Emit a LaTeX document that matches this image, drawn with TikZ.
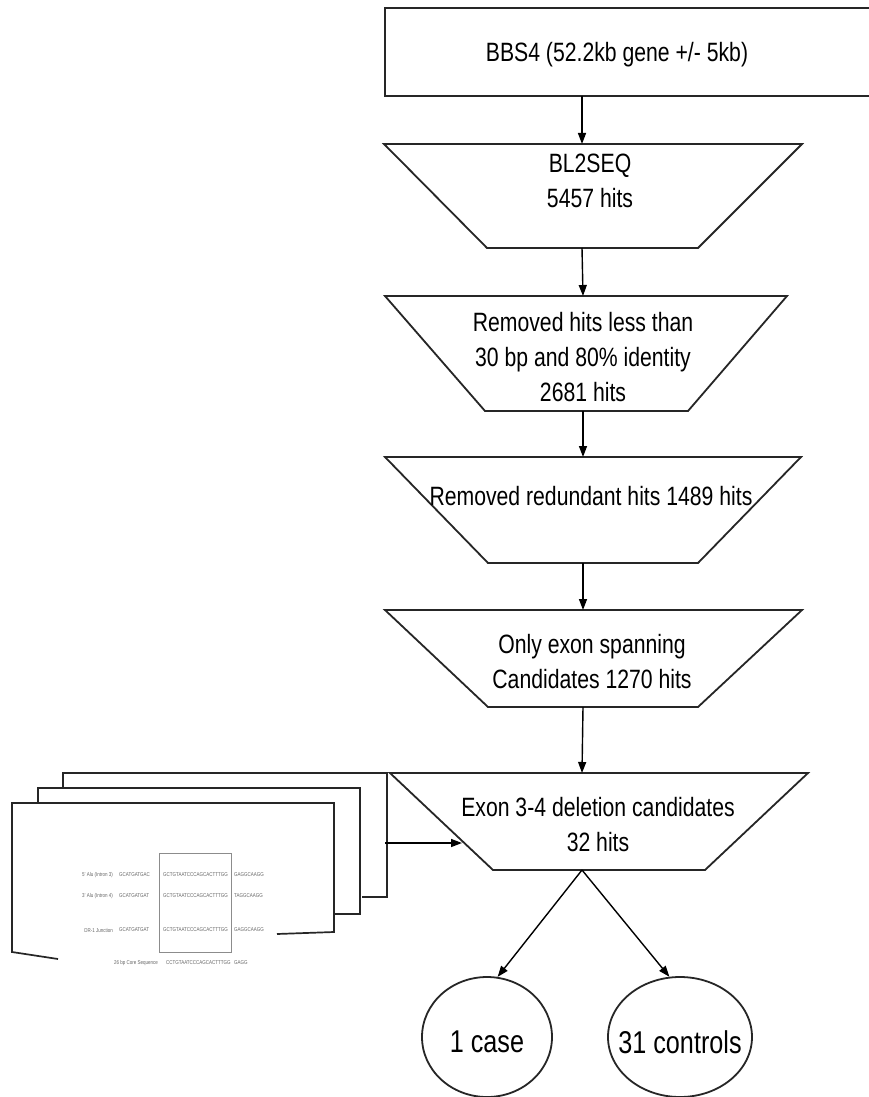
\documentclass[tikz,border=0pt]{standalone}
\usepackage{fontspec}
\setmainfont{Liberation Sans}[FakeStretch=0.8]
\usetikzlibrary{arrows.meta,shapes.geometric}
\begin{document}
\begin{tikzpicture}[x=1pt,y=-1pt,
  shapeline/.style={draw=black!85,line width=1.8pt,line join=miter},
  pageline/.style={draw=black!85,line width=1.7pt,line join=miter},
  arr/.style={draw=black,line width=1.4pt,-{Triangle[length=11pt,width=8pt]}},
  lbl/.style={font=\fontsize{26.5}{35}\selectfont,align=center,inner sep=0pt},
  elbl/.style={font=\fontsize{31.5}{38}\selectfont,inner sep=0pt},
  oval/.style={ellipse,draw=black!85,line width=1.8pt,minimum height=120pt,inner sep=0pt},
  seqtxt/.style={font=\fontsize{5.6}{6}\selectfont,text=black!60,inner sep=0pt,anchor=west},
  seqlab/.style={font=\fontsize{5.6}{6}\selectfont,text=black!60,inner sep=0pt,anchor=east},
]
\clip (0,0) rectangle (869,1097);
\fill[white] (0,0) rectangle (869,1097);

% top box
\draw[shapeline] (385,8) rectangle (900,96);
\node[lbl] (n0) at (617,55) {BBS4 (52.2kb gene +/- 5kb)};
\coordinate (b0) at (582,96);

% trapezoids
\draw[shapeline] (384,144) -- (802,144) -- (698,248) -- (487,248) -- cycle;
\node[lbl] (n1) at (590,181) {BL2SEQ\\5457 hits};
\coordinate (t1) at (582,144);
\coordinate (b1) at (582,248);

\draw[shapeline] (385,296) -- (787,296) -- (688,411) -- (485,411) -- cycle;
\node[lbl] (n2) at (583,357) {Removed hits less than\\30 bp and 80\% identity\\2681 hits};
\coordinate (t2) at (583,296);
\coordinate (b2) at (583,411);

\draw[shapeline] (385,457) -- (801,457) -- (698,563) -- (488,563) -- cycle;
\node[lbl] (n3) at (591,496) {Removed redundant hits 1489 hits};
\coordinate (t3) at (583,457);
\coordinate (b3) at (583,563);

\draw[shapeline] (385,610) -- (802,610) -- (698,707) -- (488,707) -- cycle;
\node[lbl] (n4) at (592,662) {Only exon spanning\\Candidates 1270 hits};
\coordinate (t4) at (583,610);
\coordinate (b4) at (583,707);

\draw[shapeline] (390,773) -- (808,773) -- (705,870) -- (493,870) -- cycle;
\node[lbl] (n5) at (598,825) {Exon 3-4 deletion candidates\\32 hits};
\coordinate (t5) at (582,773);
\coordinate (b5) at (582,870);
\coordinate (t5l) at (462,843);

% ellipses
\node[oval,minimum width=130pt] (e1) at (487,1037) {};
\node[elbl] (e1t) at (487,1042) {1 case};
\node[oval,minimum width=144pt] (e2) at (680,1037) {};
\node[elbl] (e2t) at (680,1042) {31 controls};

% connectors
\draw[arr] (b0) -- (t1);
\draw[arr] (b1) -- (t2);
\draw[arr] (b2) -- (t3);
\draw[arr] (b3) -- (t4);
\draw[arr] (b4) -- (t5);
\draw[arr] (b5) -- (e1.80);
\draw[arr] (b5) -- (e2.100);

% document stack
\draw[pageline] (63,788) -- (63,773) -- (387,773) -- (387,897) -- (362,897);
\draw[pageline] (38,803) -- (38,788) -- (360,788) -- (360,914) -- (335,914);
\draw[pageline] (58,959) -- (12,952) -- (12,803) -- (334,803) -- (334,932) -- (277,934);
\coordinate (docR) at (385,843);
\draw[arr] (docR) -- (t5l);

% alignment picture
\draw[black!45,line width=0.6pt] (159,853) rectangle (231,952);
\node[seqlab] (a1) at (113,875) {5' Alu (Intron 3)};
\node[seqtxt] (a1a) at (119,875) {GCATGATGAC};
\node[seqtxt] (a1b) at (163,875) {GCTGTAATCCCAGCACTTTGG};
\node[seqtxt] (a1c) at (234,875) {GAGGCAAGG};
\node[seqlab] (a2) at (113,896) {3' Alu (Intron 4)};
\node[seqtxt] (a2a) at (119,896) {GCATGATGAT};
\node[seqtxt] (a2b) at (163,896) {GCTGTAATCCCAGCACTTTGG};
\node[seqtxt] (a2c) at (234,896) {TAGGCAAGG};
\node[seqlab] (a3) at (113,930) {DR-1 Junction};
\node[seqtxt] (a3a) at (119,930) {GCATGATGAT};
\node[seqtxt] (a3b) at (163,930) {GCTGTAATCCCAGCACTTTGG};
\node[seqtxt] (a3c) at (234,930) {GAGGCAAGG};
\node[seqlab] (a4) at (158,963) {26 bp Core Sequence};
\node[seqtxt] (a4b) at (166,963) {CCTGTAATCCCAGCACTTTGG};
\node[seqtxt] (a4c) at (234,963) {GAGG};
\end{tikzpicture}
\end{document}
